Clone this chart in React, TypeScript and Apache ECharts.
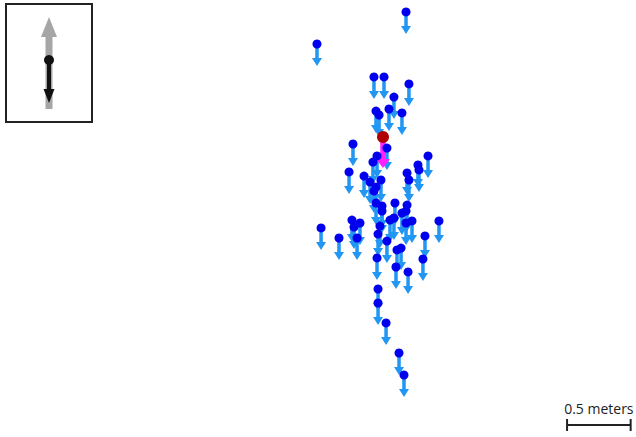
import React, { useEffect, useRef } from "react";
import * as echarts from "echarts";

// Marker positions in meters (x to the right, y upwards)
const markerX = [
  0.192, -0.508, -0.06, 0.019, 0.215, 0.097, 0.058, -0.044, -0.02, 0.16,
  -0.225, 0.042, -0.036, -0.068, 0.365, 0.286, 0.294, -0.256, 0.2, 0.215,
  -0.138, -0.005, -0.091, -0.044, -0.06, -0.044, 0.003, 0.003, 0.105, 0.2,
  0.192, 0.16, -0.233, -0.17, -0.217, -0.013, 0.066, 0.097, 0.192, 0.239,
  0.451, -0.476, -0.335, -0.193, -0.028, 0.042, 0.341, 0.121, 0.153, -0.036,
  0.325, 0.113, 0.208, -0.028, -0.028, 0.035, 0.137, 0.176,
];
const markerY = [
  0.906, 0.654, 0.395, 0.395, 0.34, 0.237, 0.143, 0.127, 0.096, 0.112,
  -0.132, -0.164, -0.226, -0.274, -0.226, -0.297, -0.336, -0.352, -0.36, -0.415,
  -0.384, -0.415, -0.431, -0.47, -0.502, -0.596, -0.619, -0.659, -0.596, -0.612,
  -0.659, -0.675, -0.73, -0.753, -0.785, -0.777, -0.73, -0.714, -0.753, -0.737,
  -0.737, -0.792, -0.871, -0.871, -0.84, -0.895, -0.855, -0.965, -0.95, -1.028,
  -1.036, -1.099, -1.138, -1.272, -1.382, -1.539, -1.775, -1.948,
];
// Displacement of every marker (meters)
const markerShiftX = 0;
const markerShiftY = -0.173;

// Reference point and its displacement (meters)
const refX = [0.011];
const refY = [-0.077];
const refShiftX = 0;
const refShiftY = -0.244;

// Scale bar
const scaleLength = 0.5;
const scaleLabel = "0.5 meters";
const scaleAnchor = [1.458, -2.341];

const xMin = -3;
const xMax = 2;
const yMax = 1;
const W = 636;
const H = 437;
const yMin = yMax - (H / W) * (xMax - xMin);

function arrowPoints(p0: number[], p1: number[], sw: number, hw: number, hl: number) {
  const dx = p1[0] - p0[0];
  const dy = p1[1] - p0[1];
  const len = Math.sqrt(dx * dx + dy * dy) || 1;
  const ux = dx / len;
  const uy = dy / len;
  const nx = -uy;
  const ny = ux;
  const bx = p1[0] - ux * hl;
  const by = p1[1] - uy * hl;
  return [
    [p0[0] + nx * sw / 2, p0[1] + ny * sw / 2],
    [bx + nx * sw / 2, by + ny * sw / 2],
    [bx + nx * hw / 2, by + ny * hw / 2],
    [p1[0], p1[1]],
    [bx - nx * hw / 2, by - ny * hw / 2],
    [bx - nx * sw / 2, by - ny * sw / 2],
    [p0[0] - nx * sw / 2, p0[1] - ny * sw / 2],
  ];
}

function arrowSeries(xs: number[], ys: number[], sx: number, sy: number, color: string, sw: number, hw: number, hl: number, z: number) {
  return {
    type: "custom",
    z,
    silent: true,
    data: xs.map((x, i) => [x, ys[i]]),
    renderItem: (params: any, api: any) => {
      const x = api.value(0);
      const y = api.value(1);
      const p0 = api.coord([x, y]);
      const p1 = api.coord([x + sx, y + sy]);
      return {
        type: "polygon",
        shape: { points: arrowPoints(p0, p1, sw, hw, hl) },
        style: { fill: color, opacity: 1 },
      };
    },
  };
}

export default function App() {
  const ref = useRef<HTMLDivElement>(null);
  useEffect(() => {
    document.body.style.margin = "0";
    const chart = echarts.init(ref.current!, null, { renderer: "svg" });
    chart.setOption({
      animation: false,
      backgroundColor: "#ffffff",
      grid: { left: 0, top: 0, width: W, height: H },
      xAxis: { type: "value", min: xMin, max: xMax, show: false },
      yAxis: { type: "value", min: yMin, max: yMax, show: false },
      graphic: [
        {
          type: "rect",
          shape: { x: 6, y: 4, width: 86, height: 118 },
          style: { fill: "#ffffff", stroke: "#222222", lineWidth: 2 },
        },
        {
          type: "polygon",
          shape: { points: arrowPoints([49, 109], [49, 17], 7, 16, 20) },
          style: { fill: "#a6a6a6" },
        },
        {
          type: "polygon",
          shape: { points: arrowPoints([49, 60], [49, 103], 4, 11, 14) },
          style: { fill: "#111111" },
        },
        {
          type: "circle",
          shape: { cx: 49, cy: 60, r: 5 },
          style: { fill: "#111111" },
        },
      ],
      series: [
        arrowSeries(markerX, markerY, markerShiftX, markerShiftY, "#2196f3", 3.5, 10, 8, 1),
        arrowSeries(refX, refY, refShiftX, refShiftY, "#ff22ff", 5.5, 14, 9, 3),
        {
          type: "scatter",
          z: 4,
          silent: true,
          symbolSize: 9,
          itemStyle: { color: "#0000ee", opacity: 1 },
          data: markerX.map((x, i) => [x, markerY[i]]),
        },
        {
          type: "scatter",
          z: 5,
          silent: true,
          symbolSize: 12,
          itemStyle: { color: "#b00000", opacity: 1 },
          data: refX.map((x, i) => [x, refY[i]]),
        },
        {
          type: "custom",
          z: 6,
          silent: true,
          data: [scaleAnchor],
          renderItem: (params: any, api: any) => {
            const x = api.value(0);
            const y = api.value(1);
            const a = api.coord([x, y]);
            const b = api.coord([x + scaleLength, y]);
            const stroke = { stroke: "#222222", lineWidth: 2 };
            return {
              type: "group",
              children: [
                { type: "line", shape: { x1: a[0], y1: a[1], x2: b[0], y2: b[1] }, style: stroke },
                { type: "line", shape: { x1: a[0], y1: a[1] - 6, x2: a[0], y2: a[1] + 6 }, style: stroke },
                { type: "line", shape: { x1: b[0], y1: b[1] - 6, x2: b[0], y2: b[1] + 6 }, style: stroke },
                {
                  type: "text",
                  x: (a[0] + b[0]) / 2,
                  y: a[1] - 9,
                  style: {
                    text: scaleLabel,
                    fill: "#222222",
                    font: "14px 'Open Sans'",
                    textAlign: "center",
                    textVerticalAlign: "bottom",
                  },
                },
              ],
            };
          },
        },
      ],
    });
    return () => chart.dispose();
  }, []);
  return (
    <div
      ref={ref}
      style={{ position: "fixed", left: 0, top: 0, width: W, height: H, background: "#fff" }}
    />
  );
}
